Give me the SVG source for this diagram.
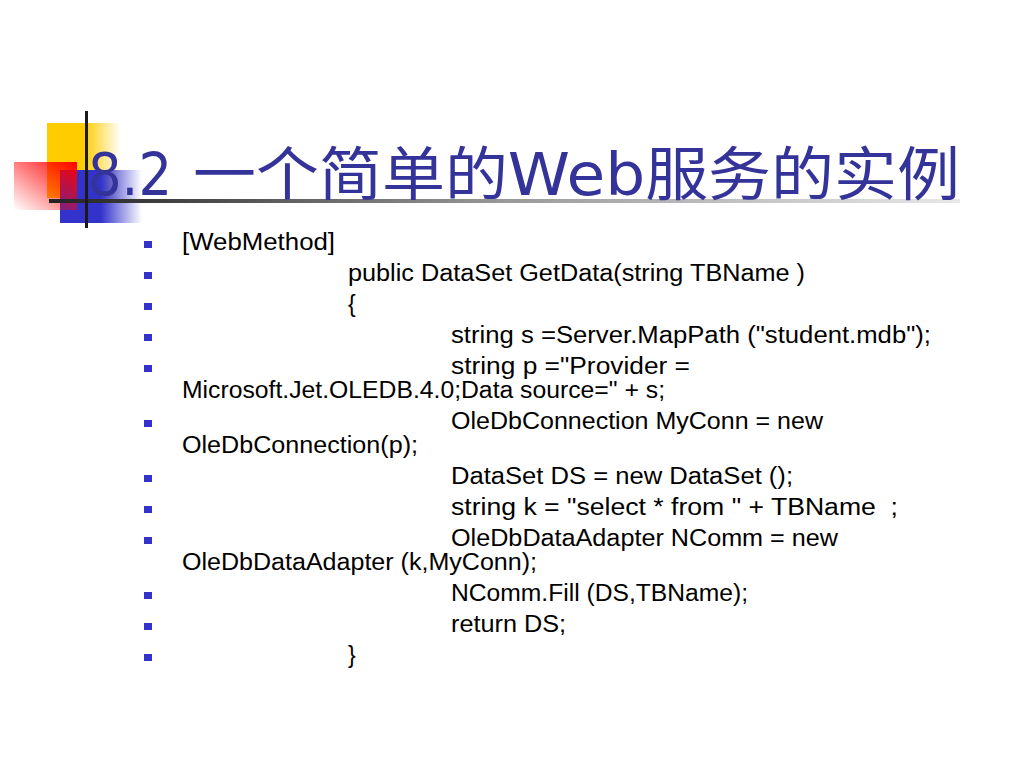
<svg xmlns="http://www.w3.org/2000/svg" width="1024" height="768" viewBox="0 0 1024 768">
<defs>
<linearGradient id="gy" x1="0" y1="0" x2="1" y2="0">
<stop offset="0" stop-color="#FFCC00"/><stop offset="0.5" stop-color="#FFCC00"/><stop offset="1" stop-color="#FFCC00" stop-opacity="0"/>
</linearGradient>
<linearGradient id="gb" x1="0" y1="0" x2="1" y2="0">
<stop offset="0" stop-color="#3333CC"/><stop offset="0.5" stop-color="#3333CC"/><stop offset="1" stop-color="#3333CC" stop-opacity="0"/>
</linearGradient>
<linearGradient id="gr" x1="1" y1="0" x2="0" y2="1">
<stop offset="0" stop-color="#FF0000"/><stop offset="1" stop-color="#FF0000" stop-opacity="0"/>
</linearGradient>
<linearGradient id="gl" x1="0" y1="0" x2="1" y2="0">
<stop offset="0" stop-color="#222222"/><stop offset="0.5" stop-color="#999999"/><stop offset="1" stop-color="#e8e8e8"/>
</linearGradient>
<style>
.t{font-family:"Liberation Sans",Arial,sans-serif;font-size:23px;fill:#000}
.b{fill:#3333CC}
.h{font-family:"DejaVu Sans","Noto Sans CJK SC",sans-serif;font-size:58px;fill:#333399}
</style>
</defs>
<rect width="1024" height="768" fill="#fff"/>
<g id="logo">
<rect x="47" y="123" width="74" height="75" fill="url(#gy)"/>
<rect x="60" y="170" width="82" height="53" fill="url(#gb)"/>
<rect x="14" y="162" width="63" height="48" fill="url(#gr)"/>
<rect x="49" y="199" width="911" height="4" fill="url(#gl)"/>
<rect x="85" y="111" width="3" height="117" fill="#1a1a1a"/>
</g>
<g id="title">
<text class="h" x="88" y="195" textLength="84" lengthAdjust="spacingAndGlyphs">8.2</text>
<text class="h" x="193" y="195" textLength="767" lengthAdjust="spacingAndGlyphs">一个简单的Web服务的实例</text>
</g>
<g id="bullets">
<rect class="b" x="144" y="241" width="8" height="7"/>
<rect class="b" x="144" y="272" width="8" height="7"/>
<rect class="b" x="144" y="303" width="8" height="7"/>
<rect class="b" x="144" y="334" width="8" height="7"/>
<rect class="b" x="144" y="365" width="8" height="7"/>
<rect class="b" x="144" y="420" width="8" height="7"/>
<rect class="b" x="144" y="475" width="8" height="7"/>
<rect class="b" x="144" y="506" width="8" height="7"/>
<rect class="b" x="144" y="537" width="8" height="7"/>
<rect class="b" x="144" y="592" width="8" height="7"/>
<rect class="b" x="144" y="623" width="8" height="7"/>
<rect class="b" x="144" y="654" width="8" height="7"/>
</g>
<g id="code">
<text class="t" x="182" y="250" textLength="153" lengthAdjust="spacingAndGlyphs">[WebMethod]</text>
<text class="t" x="348" y="281" textLength="457" lengthAdjust="spacingAndGlyphs">public DataSet GetData(string TBName )</text>
<text class="t" x="348" y="312">{</text>
<text class="t" x="451" y="343" textLength="480" lengthAdjust="spacingAndGlyphs">string s =Server.MapPath ("student.mdb");</text>
<text class="t" x="451" y="374" textLength="239" lengthAdjust="spacingAndGlyphs">string p ="Provider =</text>
<text class="t" x="182" y="398" textLength="483" lengthAdjust="spacingAndGlyphs">Microsoft.Jet.OLEDB.4.0;Data source=" + s;</text>
<text class="t" x="451" y="429" textLength="372" lengthAdjust="spacingAndGlyphs">OleDbConnection MyConn = new</text>
<text class="t" x="182" y="453" textLength="236" lengthAdjust="spacingAndGlyphs">OleDbConnection(p);</text>
<text class="t" x="451" y="484" textLength="342" lengthAdjust="spacingAndGlyphs">DataSet DS = new DataSet ();</text>
<text class="t" x="451" y="515" textLength="447" lengthAdjust="spacingAndGlyphs" xml:space="preserve">string k = "select * from " + TBName  ;</text>
<text class="t" x="451" y="546" textLength="387" lengthAdjust="spacingAndGlyphs">OleDbDataAdapter NComm = new</text>
<text class="t" x="182" y="570" textLength="355" lengthAdjust="spacingAndGlyphs">OleDbDataAdapter (k,MyConn);</text>
<text class="t" x="451" y="601" textLength="297" lengthAdjust="spacingAndGlyphs">NComm.Fill (DS,TBName);</text>
<text class="t" x="451" y="632" textLength="115" lengthAdjust="spacingAndGlyphs">return DS;</text>
<text class="t" x="348" y="663">}</text>
</g>
</svg>
